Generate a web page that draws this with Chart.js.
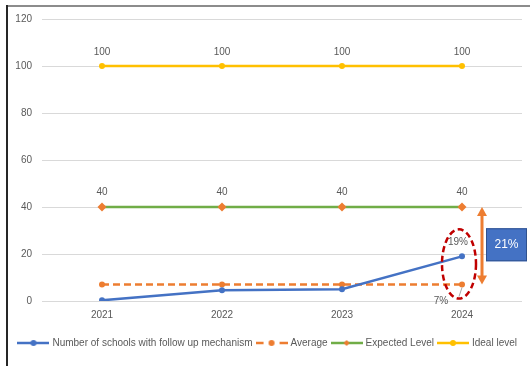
<!DOCTYPE html>
<html>
<head>
<meta charset="utf-8">
<script src="https://cdn.jsdelivr.net/npm/chart.js@4/dist/chart.umd.min.js"></script>
<style>
  html, body { margin: 0; padding: 0; background: #fff; overflow: hidden; }
  #wrap { position: relative; width: 530px; height: 366px; }
  #c { position: absolute; left: 0; top: 0; }
  #frameTop { position: absolute; left: 6px; top: 5px; width: 524px; height: 2px; background: #8c8c8c; }
  #frameLeft { position: absolute; left: 6px; top: 5px; width: 2px; height: 361px; background: #262626; }
</style>
</head>
<body>
<div id="wrap">
  <canvas id="c" width="530" height="366"></canvas>
  <div id="frameTop"></div>
  <div id="frameLeft"></div>
</div>
<script>
// Years on the x axis
const years = ['2021', '2022', '2023', '2024'];

// Series values
const schoolsWithFollowUp = [0.3, 4.6, 5, 19];
const averageLevel = [7, 7, 7, 7];
const expectedLevel = [40, 40, 40, 40];
const idealLevel = [100, 100, 100, 100];

// Y axis range and step
const yMin = 0;
const yMax = 120;
const yStep = 20;

// Which points carry a value label
const schoolsLabelIdx = [3];
const averageLabelIdx = [3];
const expectedLabelIdx = [0, 1, 2, 3];
const idealLabelIdx = [0, 1, 2, 3];

const BLUE = '#4472C4', ORANGE = '#ED7D31', GREEN = '#70AD47', YELLOW = '#FFC000';
const TEXT = '#595959';
const FONT = "'Liberation Sans', Arial, sans-serif";

// Small line+marker swatches for the legend
function swatch(color, dashed, marker, markerColor) {
  const c = document.createElement('canvas');
  c.width = 32; c.height = 10;
  const g = c.getContext('2d');
  g.strokeStyle = color;
  g.lineWidth = 2.5;
  g.beginPath();
  if (dashed) {
    g.moveTo(0, 5); g.lineTo(8, 5);
    g.moveTo(24, 5); g.lineTo(32, 5);
  } else {
    g.moveTo(0, 5); g.lineTo(32, 5);
  }
  g.stroke();
  g.fillStyle = markerColor || color;
  g.beginPath();
  if (marker === 'diamond') {
    g.moveTo(16, 2); g.lineTo(19, 5); g.lineTo(16, 8); g.lineTo(13, 5); g.closePath();
  } else {
    g.arc(16, 5, 3, 0, Math.PI * 2);
  }
  g.fill();
  return c;
}

const swatches = [
  swatch(BLUE, false, 'circle'),
  swatch(ORANGE, true, 'circle'),
  swatch(GREEN, false, 'diamond', ORANGE),
  swatch(YELLOW, false, 'circle')
];

// Value labels drawn next to selected points
const valueLabels = {
  id: 'valueLabels',
  afterDatasetsDraw(chart) {
    const ctx = chart.ctx;
    ctx.save();
    ctx.font = '10px ' + FONT;
    ctx.fillStyle = TEXT;
    ctx.textAlign = 'center';
    ctx.textBaseline = 'middle';
    chart.data.datasets.forEach((ds, di) => {
      const lab = ds.valueLabel;
      if (!lab) return;
      const meta = chart.getDatasetMeta(di);
      lab.indices.forEach(i => {
        const p = meta.data[i];
        const txt = lab.format(ds.data[i]);
        const tx = p.x + lab.dx, ty = p.y + lab.dy;
        if (lab.leader) {
          ctx.strokeStyle = '#a6a6a6';
          ctx.lineWidth = 1;
          ctx.beginPath();
          ctx.moveTo(p.x, p.y + 3);
          ctx.lineTo(p.x - 3, p.y + 12);
          ctx.stroke();
        }
        ctx.fillText(txt, tx, ty);
      });
    });
    ctx.restore();
  }
};

// Callouts around the 2024 values: ellipse, gap arrow and gap box
const gapCallout = {
  id: 'gapCallout',
  afterDraw(chart) {
    const ctx = chart.ctx;
    const xs = chart.scales.x, ys = chart.scales.y;
    const last = years.length - 1;
    const cx = xs.getPixelForValue(last);

    // dashed ellipse around the 2024 school count and average
    const top = ys.getPixelForValue(schoolsWithFollowUp[last]) - 27;
    const bottom = ys.getPixelForValue(averageLevel[last]) + 14;
    ctx.save();
    ctx.strokeStyle = '#C00000';
    ctx.lineWidth = 2.5;
    ctx.setLineDash([6, 3.5]);
    ctx.beginPath();
    ctx.ellipse(cx - 3, (top + bottom) / 2, 17, (bottom - top) / 2, 0, 0, Math.PI * 2);
    ctx.stroke();
    ctx.restore();

    // double-headed arrow from expected level down to the average
    const ax = cx + 20;
    const ay1 = ys.getPixelForValue(expectedLevel[last]);
    const ay2 = ys.getPixelForValue(averageLevel[last]);
    ctx.save();
    ctx.strokeStyle = ORANGE;
    ctx.fillStyle = ORANGE;
    ctx.lineWidth = 3;
    ctx.beginPath();
    ctx.moveTo(ax, ay1 + 7);
    ctx.lineTo(ax, ay2 - 7);
    ctx.stroke();
    ctx.beginPath();
    ctx.moveTo(ax, ay1); ctx.lineTo(ax + 5, ay1 + 9); ctx.lineTo(ax - 5, ay1 + 9); ctx.closePath();
    ctx.fill();
    ctx.beginPath();
    ctx.moveTo(ax, ay2); ctx.lineTo(ax + 5, ay2 - 9); ctx.lineTo(ax - 5, ay2 - 9); ctx.closePath();
    ctx.fill();
    ctx.restore();

    // box stating the gap between expected level and the school count
    const gap = expectedLevel[last] - schoolsWithFollowUp[last];
    const bx = cx + 24, bw = 41, bh = 33;
    const by = (ay1 + ay2) / 2 - 1 - bh / 2;
    ctx.save();
    ctx.fillStyle = BLUE;
    ctx.fillRect(bx, by, bw, bh);
    ctx.strokeStyle = '#2F528F';
    ctx.lineWidth = 1;
    ctx.strokeRect(bx + 0.5, by + 0.5, bw - 1, bh - 1);
    ctx.fillStyle = '#fff';
    ctx.font = '12px ' + FONT;
    ctx.textAlign = 'center';
    ctx.textBaseline = 'middle';
    ctx.fillText(gap + '%', bx + bw / 2, by + bh / 2);
    ctx.restore();
  }
};

new Chart(document.getElementById('c'), {
  type: 'line',
  data: {
    labels: years,
    datasets: [
      {
        label: 'Number of schools with follow up mechanism',
        data: schoolsWithFollowUp,
        borderColor: BLUE, backgroundColor: BLUE,
        borderWidth: 2.5, pointRadius: 3, pointBackgroundColor: BLUE, pointBorderWidth: 0,
        valueLabel: { indices: schoolsLabelIdx, format: v => v + '%', dx: -4, dy: -14 }
      },
      {
        label: 'Average',
        data: averageLevel,
        borderColor: ORANGE, backgroundColor: ORANGE,
        borderWidth: 2.5, borderDash: [7, 4], pointRadius: 3, pointBackgroundColor: ORANGE, pointBorderWidth: 0,
        valueLabel: { indices: averageLabelIdx, format: v => v + '%', dx: -21, dy: 17, leader: true }
      },
      {
        label: 'Expected Level',
        data: expectedLevel,
        borderColor: GREEN, backgroundColor: ORANGE,
        borderWidth: 2.5, pointStyle: 'rectRot', pointRadius: 4.5,
        pointBackgroundColor: ORANGE, pointBorderColor: ORANGE, pointBorderWidth: 0,
        valueLabel: { indices: expectedLabelIdx, format: v => String(v), dx: 0, dy: -15 }
      },
      {
        label: 'Ideal level',
        data: idealLevel,
        borderColor: YELLOW, backgroundColor: YELLOW,
        borderWidth: 2.5, pointRadius: 3, pointBackgroundColor: YELLOW, pointBorderWidth: 0,
        valueLabel: { indices: idealLabelIdx, format: v => String(v), dx: 0, dy: -14 }
      }
    ]
  },
  options: {
    responsive: false,
    animation: false,
    devicePixelRatio: 1,
    layout: { padding: { left: 8, right: 8, top: 19, bottom: 8 } },
    plugins: {
      tooltip: { enabled: false },
      legend: {
        position: 'bottom',
        align: 'end',
        labels: {
          usePointStyle: true,
          pointStyleWidth: 28,
          boxHeight: 10,
          padding: 5,
          color: TEXT,
          font: { size: 10, family: FONT },
          generateLabels(chart) {
            return chart.data.datasets.map((ds, i) => ({
              text: ds.label,
              pointStyle: swatches[i],
              fillStyle: ds.borderColor,
              strokeStyle: ds.borderColor,
              lineWidth: 0,
              fontColor: TEXT,
              hidden: !chart.isDatasetVisible(i),
              datasetIndex: i
            }));
          }
        }
      }
    },
    scales: {
      x: {
        offset: true,
        grid: { display: false, drawTicks: false },
        border: { display: false },
        ticks: { color: TEXT, font: { size: 10, family: FONT }, padding: 8 },
        afterFit(s) { s.height = 32; }
      },
      y: {
        min: yMin, max: yMax,
        grid: { color: '#d9d9d9', lineWidth: 1, drawTicks: false },
        border: { display: false },
        ticks: { stepSize: yStep, color: TEXT, font: { size: 10, family: FONT }, padding: 10 },
        afterFit(s) { s.width = 34; }
      }
    }
  },
  plugins: [valueLabels, gapCallout]
});
</script>
</body>
</html>
